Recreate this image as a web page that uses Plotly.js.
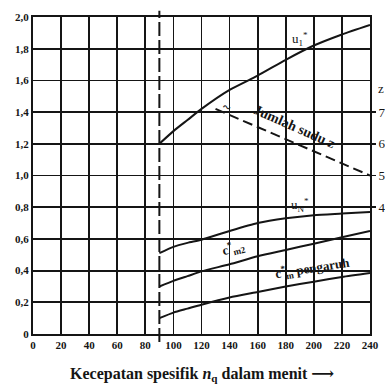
<!DOCTYPE html>
<html><head><meta charset="utf-8">
<script src="https://cdn.plot.ly/plotly-3.0.1.min.js"></script>
<style>html,body{margin:0;padding:0;background:#fff;}#chart{width:385px;height:388px;}</style>
</head><body><div id="chart"></div>
<script>
const nq = [90, 100, 110, 120, 140, 160, 180, 200, 220, 240];
const u1 = [1.20, 1.28, 1.35, 1.42, 1.54, 1.63, 1.73, 1.82, 1.89, 1.95];
const uN = [0.51, 0.55, 0.575, 0.595, 0.65, 0.70, 0.73, 0.75, 0.76, 0.77];
const cm2 = [0.30, 0.335, 0.365, 0.395, 0.44, 0.49, 0.53, 0.57, 0.61, 0.65];
const cmP = [0.10, 0.135, 0.16, 0.185, 0.23, 0.265, 0.30, 0.33, 0.36, 0.385];
const zX = [130, 240];
const zVal = [7.1, 5.0];
const xTicks = [0, 20, 40, 60, 80, 100, 120, 140, 160, 180, 200, 220, 240];
const yTicks = [0, 0.2, 0.4, 0.6, 0.8, 1.0, 1.2, 1.4, 1.6, 1.8, 2.0];
const yTickText = ['0', '0,2', '0,4', '0,6', '0,8', '1,0', '1,2', '1,4', '1,6', '1,8', '2,0'];
const zTicks = [4, 5, 6, 7];
const nqLimit = 90;

const ink = '#151515';
const serif = 'Liberation Serif, DejaVu Serif, serif';
const line = {color: ink, width: 2, shape: 'spline', smoothing: 0.6};

const traces = [
  {x: nq, y: u1, mode: 'lines', line: line, hoverinfo: 'skip'},
  {x: nq, y: uN, mode: 'lines', line: line, hoverinfo: 'skip'},
  {x: nq, y: cm2, mode: 'lines', line: line, hoverinfo: 'skip'},
  {x: nq, y: cmP, mode: 'lines', line: line, hoverinfo: 'skip'},
  {x: zX, y: zVal, yaxis: 'y2', mode: 'lines', line: {color: ink, width: 2, dash: '10px,5px'}, hoverinfo: 'skip'}
];

const tf = {family: serif, size: 11, color: ink, weight: 'bold'};
const layout = {
  width: 385, height: 388,
  margin: {l: 33, r: 15, t: 17, b: 54},
  paper_bgcolor: '#ffffff', plot_bgcolor: '#ffffff',
  showlegend: false,
  xaxis: {
    range: [0, 240], tickvals: xTicks, ticktext: xTicks.map(String),
    showgrid: true, gridcolor: ink, gridwidth: 1.8,
    showline: true, mirror: true, linecolor: ink, linewidth: 2,
    zeroline: false, ticks: '', tickfont: tf, fixedrange: true
  },
  yaxis: {
    range: [0, 2], tickvals: yTicks, ticktext: yTickText,
    showgrid: true, gridcolor: ink, gridwidth: 1.8,
    showline: true, mirror: true, linecolor: ink, linewidth: 2,
    zeroline: false, ticks: '', tickfont: tf, fixedrange: true
  },
  yaxis2: {
    overlaying: 'y', side: 'right', range: [0, 10], tickvals: zTicks,
    ticktext: zTicks.map(String), showgrid: false, zeroline: false, showline: false,
    ticks: 'outside', ticklen: 5, tickcolor: ink, tickwidth: 1.5,
    tickfont: {family: serif, size: 13, color: ink}, fixedrange: true
  },
  shapes: [
    {type: 'line', xref: 'x', yref: 'paper', x0: nqLimit, x1: nqLimit, y0: -0.025, y1: 1.02,
     line: {color: ink, width: 2, dash: '14px,4px'}}
  ],
  annotations: [
    {xref: 'x', yref: 'y', x: 190, y: 1.86, text: 'u<sub>1</sub><sup>*</sup>', showarrow: false,
     font: {family: serif, size: 13, color: ink}},
    {xref: 'x', yref: 'y', x: 190, y: 0.815, text: 'u<sub>N</sub><sup>*</sup>', showarrow: false,
     font: {family: serif, size: 13, color: ink}},
    {xref: 'x', yref: 'y', x: 143, y: 0.545, text: 'c<sup>*</sup><sub>m2</sub>', showarrow: false, textangle: -14,
     font: {family: serif, size: 13, color: ink, weight: 'bold'}},
    {xref: 'x', yref: 'y', x: 199, y: 0.415, text: 'c<sup>*</sup><sub>m</sub> pengaruh', showarrow: false, textangle: -9,
     font: {family: serif, size: 13, color: ink, weight: 'bold'}},
    {xref: 'x', yref: 'y', x: 138, y: 1.43, text: '~', showarrow: false, textangle: 24,
     font: {family: serif, size: 14, color: ink, weight: 'bold'}},
    {xref: 'x', yref: 'y', x: 186, y: 1.31, text: 'Jumlah sudu z', showarrow: false, textangle: 24,
     font: {family: serif, size: 14, color: ink, weight: 'bold'}},
    {xref: 'paper', yref: 'y', x: 1.032, y: 1.55, text: 'z', showarrow: false, xanchor: 'center',
     font: {family: serif, size: 13, color: ink}},
    {xref: 'paper', yref: 'paper', x: 0.5, y: -0.09, yanchor: 'top', showarrow: false,
     text: 'Kecepatan spesifik <i>n</i><sub>q</sub> dalam menit ⟶',
     font: {family: serif, size: 16, color: ink, weight: 'bold'}}
  ]
};

Plotly.newPlot('chart', traces, layout, {staticPlot: true, displayModeBar: false});
</script></body></html>
